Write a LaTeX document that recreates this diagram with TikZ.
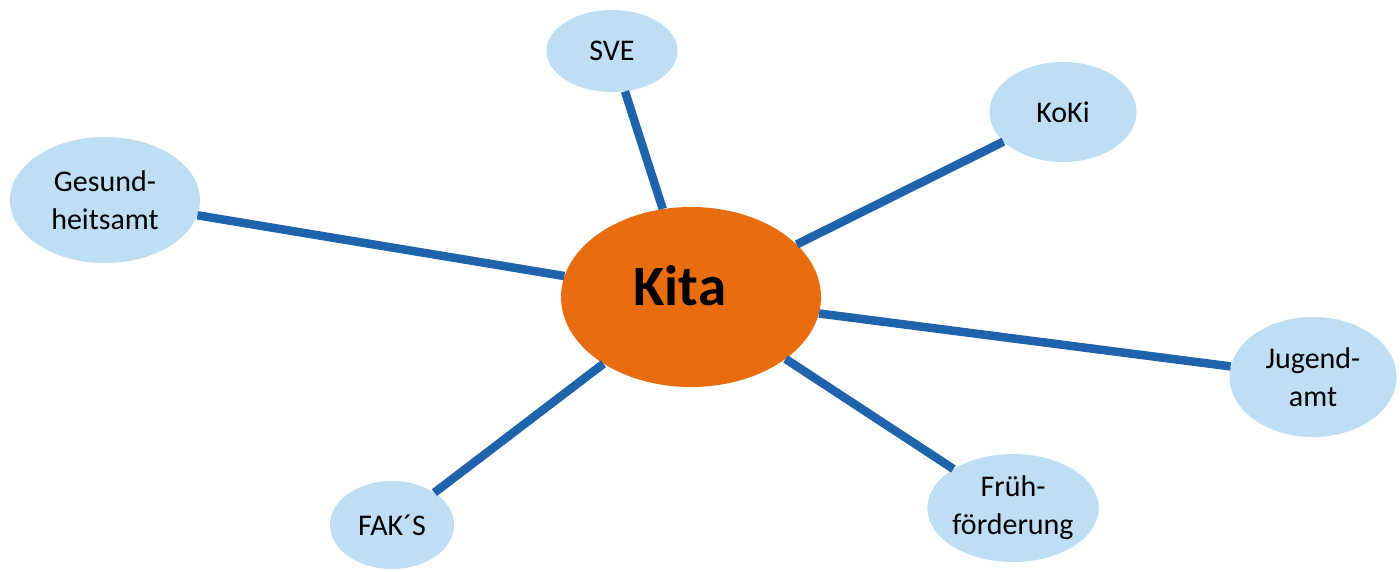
\documentclass[tikz,border=0pt]{standalone}
\usepackage{fontspec}
\setmainfont{Carlito}
\usetikzlibrary{shapes.geometric}

\definecolor{bubbleblue}{RGB}{189,222,243}
\definecolor{kitaorange}{RGB}{233,108,14}
\definecolor{linkblue}{RGB}{31,99,173}

\tikzset{
	partner/.style={ellipse, fill=bubbleblue, inner sep=0pt, align=center,
		font=\fontsize{30}{38}\selectfont},
	centre/.style={ellipse, fill=kitaorange, inner sep=0pt},
	link/.style={draw=linkblue, line width=8.5pt}
}

\begin{document}
\begin{tikzpicture}[x=1pt, y=-1pt]
	% Frame of the picture
	\useasboundingbox (0,0) rectangle (1400,571);

	% Centre
	\node[centre, minimum width=260pt, minimum height=180pt] (kita) at (691,297) {};
	\node[font=\fontsize{57}{62}\selectfont\bfseries] (kitatext) at (680,286) {Kita};

	% Partners
	\node[partner, minimum width=190pt, minimum height=126pt] (gesund) at (105,200) {Gesund-\\heitsamt};
	\node[partner, minimum width=131pt, minimum height=82pt] (sve) at (612,51) {SVE};
	\node[partner, minimum width=147pt, minimum height=100pt] (koki) at (1063,112) {KoKi};
	\node[partner, minimum width=167pt, minimum height=120pt] (jugend) at (1313,377) {Jugend-\\amt};
	\node[partner, minimum width=167pt, minimum height=108pt] (frueh) at (1013,508) {Früh-\\förderung};
	\node[partner, minimum width=124pt, minimum height=88pt] (faks) at (392,525) {FAK´S};

	% Links
	\draw[link] (kita) -- (gesund);
	\draw[link] (kita) -- (sve);
	\draw[link] (kita) -- (koki);
	\draw[link] (kita) -- (jugend);
	\draw[link] (kita) -- (frueh);
	\draw[link] (kita) -- (faks);
\end{tikzpicture}
\end{document}
